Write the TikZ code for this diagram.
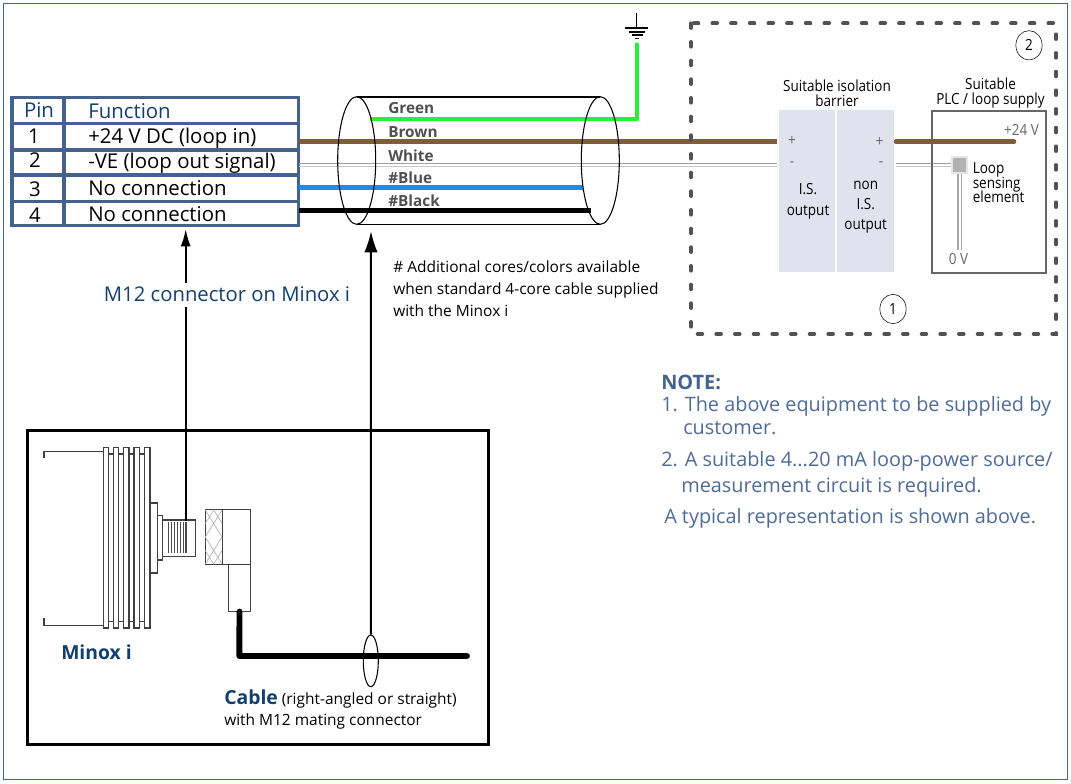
\documentclass[tikz,border=0pt]{standalone}
\usepackage{fontspec}
\setmainfont{Open Sans}
\newfontfamily\narrowfont[FakeStretch=0.88]{Open Sans}
\usetikzlibrary{arrows.meta,shapes.geometric}
\definecolor{tablue}{HTML}{45628F}
\definecolor{navy}{HTML}{123F6D}
\definecolor{notecol}{HTML}{4F6B96}
\definecolor{wirebrown}{HTML}{7F5D37}
\definecolor{wiregreen}{HTML}{22F23C}
\definecolor{wireblue}{HTML}{1B8CF2}
\definecolor{wiregrey}{HTML}{A0A0A0}
\definecolor{labgrey}{HTML}{505050}
\definecolor{barfill}{HTML}{E0E3EE}
\lineskiplimit=-10pt
\tikzset{
  cell/.style={draw=tablue,line width=2.3pt,inner sep=0pt},
  celltext/.style={inner sep=0pt,font=\fontsize{15.3}{15.3}\selectfont},
  wire/.style={line width=3.5pt},
  corelabel/.style={text=labgrey,font=\fontsize{11.5}{11.5}\selectfont\bfseries,anchor=west,inner sep=0pt},
  small/.style={font=\narrowfont\fontsize{11.5}{11.25}\selectfont,inner sep=0pt,align=center},
  note/.style={text=notecol,font=\fontsize{14.9}{14.9}\selectfont,anchor=west,inner sep=0pt},
  part/.style={draw=black!75,line width=0.8pt,fill=white},
  pinarrow/.style={-{Latex[length=13pt,width=7.5pt]},line width=1.5pt},
  tubearrow/.style={-{Latex[length=16pt,width=10pt]},line width=1.5pt},
  numcircle/.style={draw,ellipse,minimum width=19.7pt,minimum height=22pt,inner sep=0pt,font=\narrowfont\fontsize{11.5}{11.5}\selectfont},
  barrier/.style={fill=barfill,draw=white!95!barfill,line width=1.2pt,minimum width=43.5pt,minimum height=122pt,inner sep=0pt},
}
\begin{document}
\begin{tikzpicture}[x=0.75pt,y=-0.75pt]
\useasboundingbox (0,0) rectangle (1071,783);
% outer frame
\draw [tablue,line width=0.8pt] (3.5,3.5) rectangle (1067.5,779.5);
% pin table
\foreach \n/\y/\h/\px/\py/\p/\fy/\f in {hd/110.7/25.5/39/110/\textcolor{navy}{Pin}/111/\textcolor{navy}{Function},one/136.7/26.5/34/136/1/138.5/+24 V DC (loop in),two/162.5/25/35/160.5/2/163/-VE (loop out signal),three/188.2/26.5/35/189/3/188.3/No connection,four/213.5/24/35/215/4/214.3/No connection}{
  \node [cell,minimum width=39pt,minimum height=\h*0.75pt] (pin\n) at (38,\y) {};
  \node [cell,minimum width=175pt,minimum height=\h*0.75pt] (fun\n) at (181.5,\y) {};
  \node [celltext] (num\n) at (\px,\py) {\p};
  \node [celltext,anchor=west] (txt\n) at (88,\fy) {\f};
}
% core wires
\coordinate (cableL) at (299,141.7);
\coordinate (barL) at (777,141.7);
\coordinate (barR) at (896,141.7);
\coordinate (plus) at (1014,141.7);
\coordinate (greenL) at (371.7,119.3);
\coordinate (greenC) at (636.7,119.3);
\coordinate (greenT) at (636.7,44.5);
\draw [wiregreen,wire,line width=3.2pt,line join=round,line cap=round] (greenL) -- (greenC) -- (greenT);
\draw [wirebrown,wire] (cableL) -- (barL);
\draw [wiregrey,line width=0.9pt] (299,163.5) -- (777,163.5) (896,163.5) -- (952,163.5);
\draw [wiregrey!60,line width=1.4pt] (299,166.5) -- (777,166.5) (896,166.5) -- (952,166.5);
\coordinate (blueL) at (299,187.3);
\coordinate (blueR) at (583.3,187.3);
\draw [wireblue,wire] (blueL) -- (blueR);
\coordinate (blackL) at (299,210.3);
\coordinate (blackR) at (590.7,210.3);
\draw [black,wire] (blackL) -- (blackR);
% cable tube
\draw [black,line width=1.2pt] (356.7,96.7) -- (600.3,96.7) (356.7,224.3) -- (600.3,224.3);
\draw [black,line width=0.8pt] (356.7,160.5) ellipse (19 and 63.8) (600.3,160.5) ellipse (19 and 63.8);
\foreach \n/\t/\y in {gr/Green/108.3,br/Brown/132.4,wh/White/156,bl/\#Blue/177.3,bk/\#Black/201}
  \node [corelabel] (core\n) at (388,\y) {\t};
% earth symbol
\draw [black,line width=1.1pt] (636.7,13) -- (636.7,28);
\draw [black,line width=1.1pt] (625,28) -- (648,28) (629,32) -- (645,32) (632,35) -- (642.7,35) (635,38.7) -- (638.5,38.7);
% dashed enclosure
\draw [black!68,line width=2.9pt,dash pattern=on 3.5pt off 10.5pt,line cap=round] (691,23.3) rectangle (1056,334);
\node [numcircle] (cnum) at (1029,45.3) {2};
\node [numcircle] (bnum) at (893,309) {1};
% isolation barrier
\node [barrier] (isL) at (806.7,191) {};
\node [barrier] (isR) at (865.5,191) {};
\node [small] (bartitle) at (837,93) {Suitable isolation\\barrier};
\node [small,text=black!60] (plusL) at (792,140.7) {+};
\node [small,text=black!60] (minusL) at (792,164) {-};
\node [small,text=black!60] (plusR) at (879.5,142) {+};
\node [small,text=black!60] (minusR) at (881,164) {-};
\node [small] (isout) at (808,201.5) {I.S.\\[4.5pt]output};
\node [small] (nonis) at (865.7,207) {non\\[4pt]I.S.\\[4pt]output};
% loop supply
\node [draw=black!60,line width=1.5pt,minimum width=85.5pt,minimum height=121.5pt,inner sep=0pt] (plc) at (989,192) {};
\draw [wirebrown,wire,line cap=round] (barR) -- (plus);
\node [small] (plctitle) at (990.5,93) {Suitable\\PLC / loop supply};
\node [small,text=black!60] (pv) at (1021.5,130) {+24 V};
\node [fill=black!30,draw=black!10,line width=1.5pt,minimum size=11.5pt,inner sep=0pt] (sense) at (959.7,165) {};
\coordinate (zero) at (959.7,250);
\draw [black!35,line width=0.9pt,double=white,double distance=1.6pt] (sense) -- (zero);
\node [small,align=left,anchor=north west,font=\narrowfont\fontsize{11.5}{10.9}\selectfont] (loopsense) at (972.5,162.5) {Loop\\sensing\\element};
\node [small,text=black!60] (zv) at (958.5,259) {0 V};
% notes
\node [anchor=west,inner sep=0pt,text=tablue,font=\fontsize{14.9}{14.9}\selectfont\bfseries] (notehd) at (661,382) {NOTE:};
\node [note] (n1a) at (661,406) {1. The above equipment to be supplied by};
\node [note] (n1b) at (683,428) {customer.};
\node [note] (n2a) at (661,461) {2. A suitable 4...20 mA loop-power source/};
\node [note] (n2b) at (681,487) {measurement circuit is required.};
\node [note] (n3) at (664,518) {A typical representation is shown above.};
% texts
\node [anchor=north west,inner sep=0pt,align=left,font=\fontsize{11.6}{16.5}\selectfont] (addnote) at (393,260.5) {\# Additional cores/colors available\\when standard 4-core cable supplied\\with the Minox i};
% lower panel
\node [draw=black,line width=2.25pt,minimum width=345.8pt,minimum height=236.2pt,inner sep=0pt] (panel) at (257.8,587.5) {};
% sensor body
\draw [black!75,line width=0.8pt] (44,458) -- (44,451.5) -- (104,451.5) (44,618) -- (44,625.7) -- (104,625.7);
\foreach \x/\w in {103.3/5,113.7/5,123.7/5.3,134/5.3,144.3/5.7}
  \draw [part] (\x,447.7) rectangle ++(\w,180.3);
\foreach \x in {108.3,118.7,129,139.3}
  \draw [black!75,line width=0.8pt] (\x,454) -- ++(5,0) (\x,621.7) -- ++(5,0);
\draw [part] (150,503) rectangle (157.7,573);
\draw [part] (157.7,515.7) rectangle (162.7,560);
\node [part,minimum width=24.2pt,minimum height=27.5pt,inner sep=0pt] (m12plug) at (178.9,538.3) {};
\foreach \x in {168.5,171.5,174.5,177.5,180.5,183.5,186}
  \draw [black!70,line width=0.9pt] (\x,522.3) -- (\x,552.7);
% mating connector
\node [part,minimum width=21.3pt,minimum height=41pt,inner sep=0pt] (conhead) at (236.2,537) {};
\node [part,minimum width=12.5pt,minimum height=41pt,inner sep=0pt] (conknurl) at (213.7,537) {};
\draw [black!30,line width=0.5pt] (205.3,510) -- (222,537) -- (205.3,564) (222,510) -- (205.3,537) -- (222,564) (205.3,523.5) -- (213.7,510) -- (222,523.5) (205.3,550.5) -- (213.7,564) -- (222,550.5);
\node [part,minimum width=16.2pt,minimum height=35pt,inner sep=0pt] (conleg) at (239.5,587.7) {};
\coordinate (cabbend) at (239.3,656);
\coordinate (cabend) at (467,656);
\draw [black,line width=4.4pt,line join=round,line cap=round] (conleg.south) -- (cabbend) -- (cabend);
\node [draw,line width=0.8pt,ellipse,minimum width=11.25pt,minimum height=38.8pt,inner sep=0pt] (cabring) at (370.8,660.8) {};
\node [inner sep=0pt,anchor=west,text=navy,font=\fontsize{14.5}{14.5}\selectfont\bfseries] (minox) at (61,652) {Minox i};
\node [inner sep=0pt,anchor=west,font=\fontsize{11.6}{11.6}\selectfont] (cabtxt) at (224,699) {\textcolor{navy}{\fontsize{14.5}{14.5}\selectfont\bfseries Cable} (right-angled or straight)};
\node [inner sep=0pt,anchor=west,font=\fontsize{11.6}{11.6}\selectfont] (cabtxtb) at (224,721) {with M12 mating connector};
% call-outs
\coordinate (pinhead) at (185.7,229);
\coordinate (tubehead) at (371,231);
\coordinate (plugtop) at (185.7,521);
\draw [pinarrow] (plugtop) -- (pinhead);
\draw [tubearrow] (cabring.north) -- (tubehead);
\node [fill=white,inner sep=0pt,minimum height=18pt,text=navy,font=\fontsize{15.2}{15.2}\selectfont] (m12) at (227,294.5) {M12 connector on Minox i};
\end{tikzpicture}
\end{document}
